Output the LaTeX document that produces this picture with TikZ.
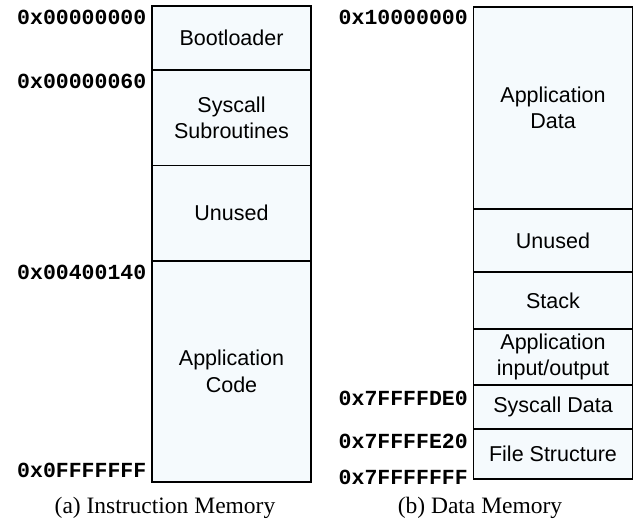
\documentclass[tikz,border=0pt]{standalone}
\usepackage{fontspec}
\setmainfont{Liberation Serif}
\setsansfont{Liberation Sans}
\setmonofont{Liberation Mono}
\definecolor{blockfill}{RGB}{245,250,253}
\tikzset{
  memblock/.style={draw=black, line width=1.1bp, fill=blockfill, rectangle,
    inner sep=0pt, minimum width=159bp, align=center,
    font=\sffamily\fontsize{21.5bp}{26.5bp}\selectfont},
  addr/.style={inner sep=0pt, anchor=base east,
    font=\ttfamily\bfseries\fontsize{21.5bp}{24bp}\selectfont},
  caption/.style={inner sep=0pt, font=\rmfamily\fontsize{23.5bp}{28bp}\selectfont}
}
\begin{document}
\begin{tikzpicture}[x=1bp, y=-1bp]
  \useasboundingbox (0,0) rectangle (634,527);

  % Instruction memory blocks (x from 152 to 311)
  \node[memblock, minimum height=64bp]  (boot)  at (231.5, 38)     {Bootloader};
  \node[memblock, minimum height=95.5bp] (sysr) at (231.5, 117.75) {Syscall\\Subroutines};
  \node[memblock, minimum height=95.5bp] (iunu) at (231.5, 213.25) {Unused};
  \node[memblock, minimum height=221bp] (code)  at (231.5, 371.5)  {Application\\Code};

  % Instruction memory addresses
  \node[addr] (a0) at ([xshift=-5bp, yshift=-19bp]boot.north west) {0x00000000};
  \node[addr] (a1) at ([xshift=-5bp, yshift=-19.5bp]sysr.north west) {0x00000060};
  \node[addr] (a2) at ([xshift=-5bp, yshift=-19.5bp]code.north west) {0x00400140};
  \node[addr] (a3) at ([xshift=-5bp, yshift=5bp]code.south west) {0x0FFFFFFF};

  % Data memory blocks (x from 474 to 633)
  \node[memblock, minimum height=202bp] (adat) at (553, 108)    {Application\\Data};
  \node[memblock, minimum height=63bp]  (dunu) at (553, 240.5)  {Unused};
  \node[memblock, minimum height=57bp]  (stk)  at (553, 300.5)  {Stack};
  \node[memblock, minimum height=56bp]  (aio)  at (553, 357)    {Application\\input/output};
  \node[memblock, minimum height=44bp]  (sdat) at (553, 407)    {Syscall Data};
  \node[memblock, minimum height=50bp]  (fstr) at (553, 454)    {File Structure};

  % Data memory addresses
  \node[addr] (b0) at ([xshift=-5bp, yshift=-18bp]adat.north west) {0x10000000};
  \node[addr] (b1) at ([xshift=-5bp, yshift=-21bp]sdat.north west) {0x7FFFFDE0};
  \node[addr] (b2) at ([xshift=-5bp, yshift=-20bp]fstr.north west) {0x7FFFFE20};
  \node[addr] (b3) at ([xshift=-5bp, yshift=-5bp]fstr.south west) {0x7FFFFFFF};

  % Captions
  \node[caption] (capa) at (165, 508) {(a) Instruction Memory};
  \node[caption] (capb) at (480, 508) {(b) Data Memory};
\end{tikzpicture}
\end{document}
